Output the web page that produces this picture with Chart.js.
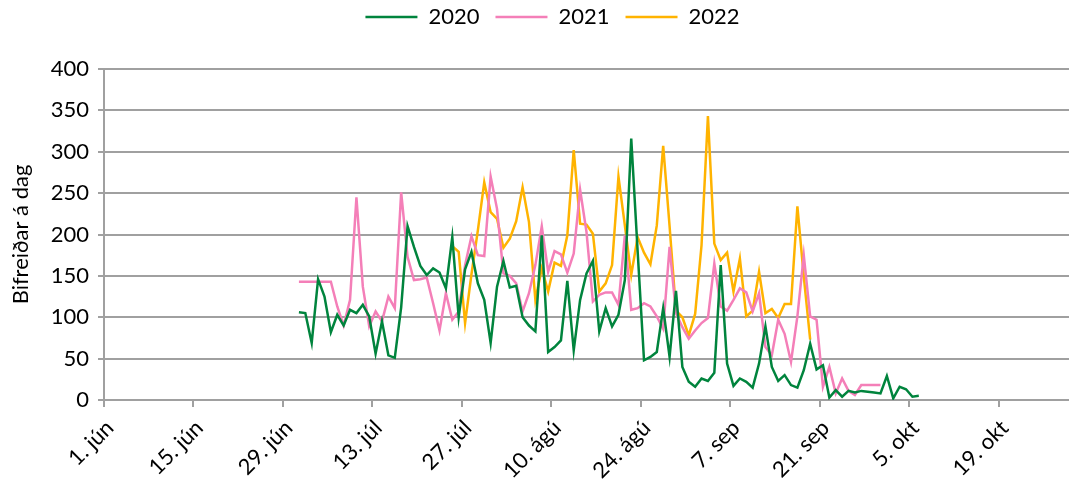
<!DOCTYPE html>
<html>
<head>
<meta charset="utf-8">
<script src="https://cdn.jsdelivr.net/npm/chart.js@4.4.0/dist/chart.umd.min.js"></script>
<style>
  html, body { margin: 0; padding: 0; background: #fff; overflow: hidden; }
  #wrap { width: 1069px; height: 488px; }
</style>
</head>
<body>
<div id="wrap"><canvas id="chart"></canvas></div>
<script>
// x axis: days after 1. jún, tick every 14 days
const tickLabels = ['1. jún', '15. jún', '29. jún', '13. júl', '27. júl', '10. ágú', '24. ágú', '7. sep', '21. sep', '5. okt', '19. okt'];
const years = ['2020', '2021', '2022'];

// first day of each series (days after 1. jún)
const start2020 = 30;
const start2021 = 30;
const start2022 = 54;

const values2020 = [
  106, 105, 69, 146, 125, 82, 103, 90, 109, 105, 115, 101, 56, 95, 54, 51,
  112, 210, 185, 162, 151, 159, 154, 135, 197, 100, 158, 179, 141, 121, 69, 137,
  168, 136, 138, 100, 90, 83, 199, 58, 64, 72, 144, 60, 121, 153, 168, 83,
  111, 89, 103, 145, 316, 180, 48, 52, 58, 111, 52, 132, 40, 22, 16, 26,
  23, 33, 163, 44, 17, 26, 22, 15, 44, 89, 40, 23, 30, 18, 15, 36,
  68, 37, 42, 3, 12, 4, 11, 9, 11, 10, 9, 8, 29, 2, 16, 13, 4, 5
];
const values2021 = [
  143, 143, 143, 143, 143, 143, 113, 90, 121, 245, 137, 89, 107, 95, 125, 111,
  251, 173, 145, 146, 148, 117, 84, 129, 97, 107, 163, 198, 175, 174, 270, 231,
  153, 150, 141, 107, 129, 163, 210, 155, 180, 176, 154, 177, 254, 203, 119, 127,
  130, 130, 115, 199, 109, 111, 117, 113, 101, 86, 185, 105, 88, 74, 84, 93,
  99, 165, 113, 108, 121, 135, 130, 107, 129, 64, 54, 97, 80, 46, 101, 175,
  101, 97, 16, 40, 8, 26, 11, 6, 18, 18, 18, 18
];
const values2022 = [
  186, 179, 93, 152, 205, 263, 227, 219, 184, 195, 216, 257, 215, 121, 159, 131,
  166, 162, 199, 302, 213, 212, 201, 131, 141, 163, 270, 211, 151, 197, 178, 164,
  211, 307, 210, 108, 100, 78, 104, 187, 343, 189, 169, 178, 131, 171, 101, 108,
  155, 105, 110, 99, 116, 116, 234, 149, 73
];

const colors = ['#00843d', '#f47fb8', '#ffb300'];

function points(start, vals) {
  // each day is drawn in the middle of its day slot
  return vals.map((v, i) => ({ x: start + i + 0.5, y: v }));
}

const series = [
  points(start2020, values2020),
  points(start2021, values2021),
  points(start2022, values2022)
];

const font = { family: 'Lato', size: 22 };
const gridColor = '#a0a0a0';

// extra space under the legend, and nudge it right a little
const legendTweak = {
  id: 'legendTweak',
  beforeInit(chart) {
    const leg = chart.legend;
    const fit = leg.fit;
    leg.fit = function () { fit.call(this); this.height += 31; };
    const draw = leg.draw;
    leg.draw = function () {
      this.left += 18; this.right += 18;
      draw.call(this);
      this.left -= 18; this.right -= 18;
    };
  }
};

new Chart(document.getElementById('chart'), {
  type: 'line',
  data: {
    datasets: series.map((d, i) => ({
      label: years[i],
      data: d,
      borderColor: colors[i],
      backgroundColor: colors[i],
      borderWidth: 2.5,
      pointRadius: 0,
      tension: 0,
      fill: false
    }))
  },
  options: {
    responsive: true,
    maintainAspectRatio: false,
    animation: false,
    layout: { padding: { top: -10, left: 0, right: 0, bottom: 0 } },
    plugins: {
      legend: {
        position: 'top',
        labels: {
          color: '#000', font: font, padding: 16,
          usePointStyle: true, pointStyle: 'line', pointStyleWidth: 52
        }
      },
      tooltip: { enabled: false }
    },
    scales: {
      x: {
        type: 'linear',
        min: 0,
        max: 151,
        afterFit: s => { s.height = 88; },
        border: { color: gridColor, width: 2 },
        grid: { drawOnChartArea: false, color: gridColor, lineWidth: 2, tickLength: 7 },
        ticks: {
          stepSize: 14,
          includeBounds: false,
          autoSkip: false,
          minRotation: 45,
          maxRotation: 45,
          color: '#000',
          font: font,
          padding: 8,
          labelOffset: 6,
          callback: v => tickLabels[v / 14]
        }
      },
      y: {
        min: 0,
        max: 400,
        afterFit: s => { s.width = 104; },
        border: { color: gridColor, width: 2 },
        grid: { color: gridColor, lineWidth: 2, tickLength: 6 },
        ticks: { stepSize: 50, color: '#000', font: font, padding: 9 },
        title: { display: true, text: 'Bifreiðar á dag', color: '#000', font: font, padding: 8 }
      }
    }
  },
  plugins: [legendTweak]
});
</script>
</body>
</html>
